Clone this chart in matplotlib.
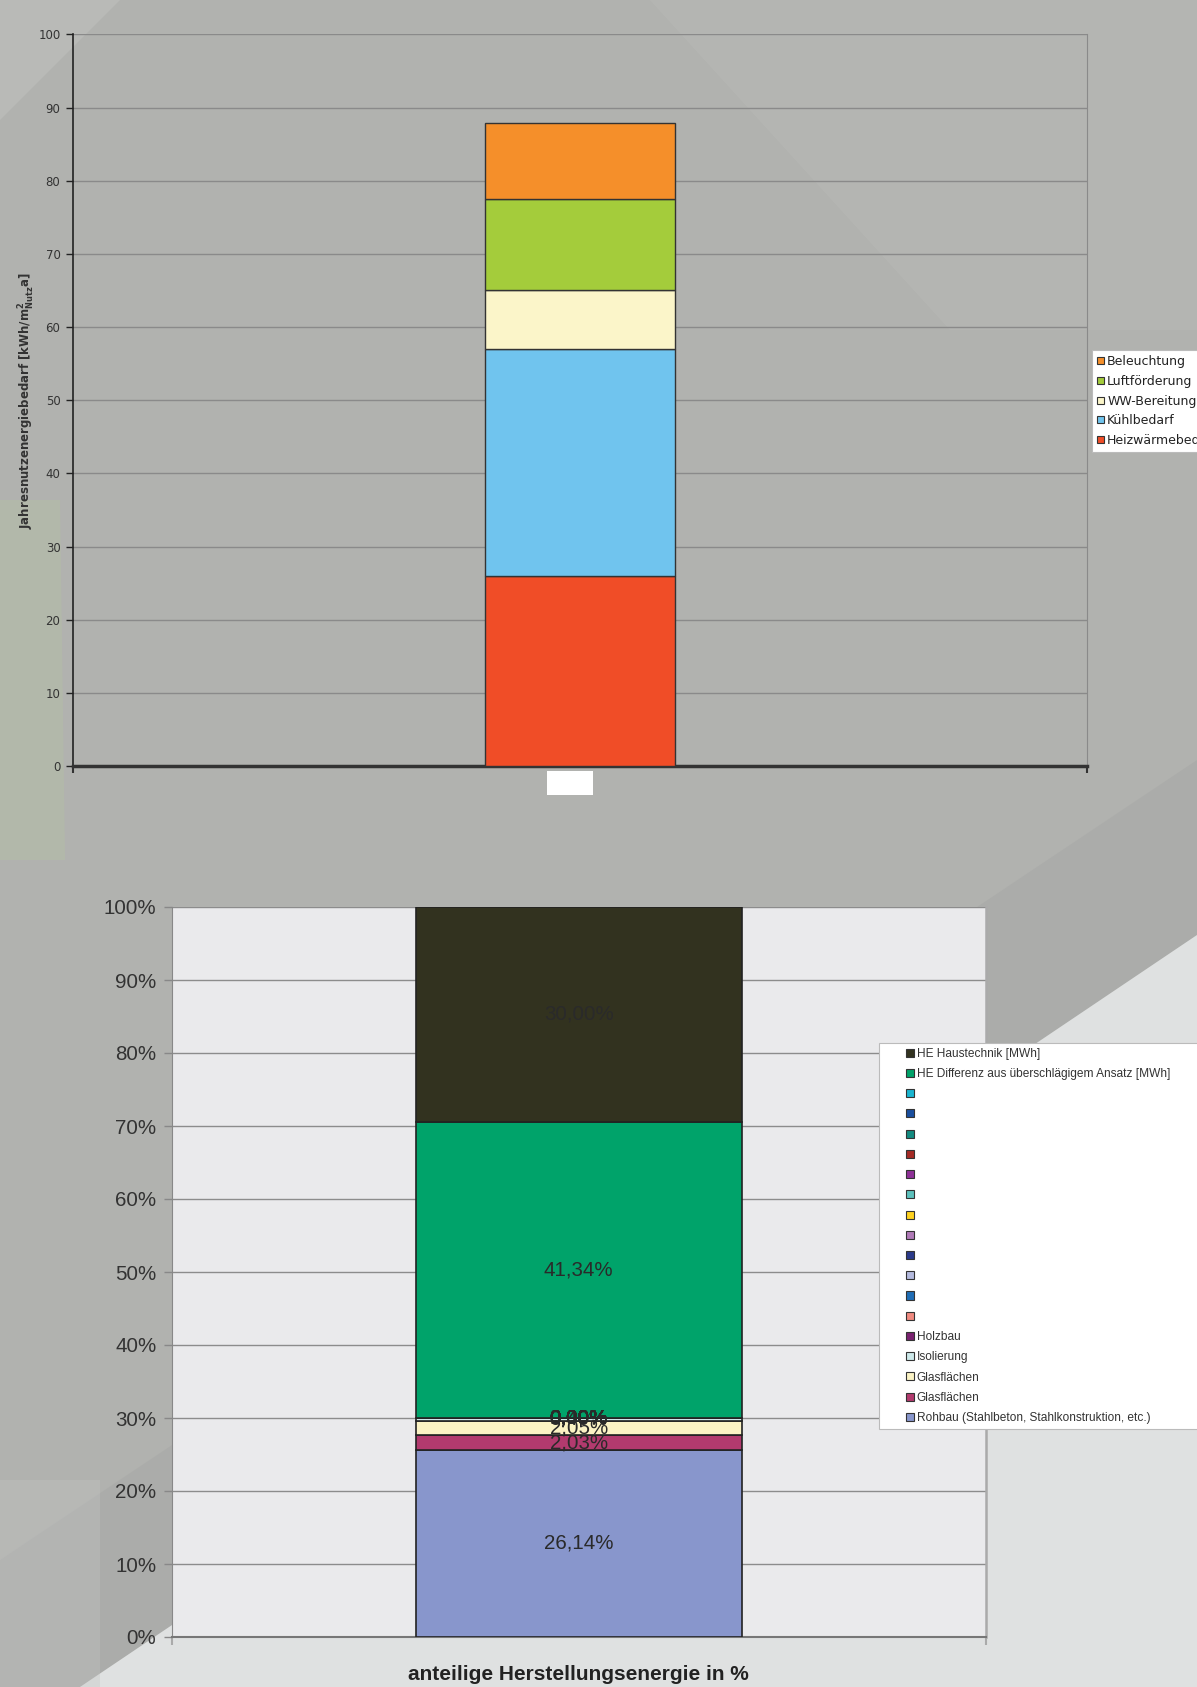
import matplotlib
matplotlib.use("Agg")
import matplotlib.pyplot as plt
from matplotlib.patches import Polygon, Rectangle, Patch
from matplotlib.legend_handler import HandlerPatch

# ---------------- data: top chart ----------------
top_categories = ["Heizwärmebedarf", "Kühlbedarf", "WW-Bereitung", "Luftförderung", "Beleuchtung"]
top_values = [26.0, 31.0, 8.0, 12.45, 10.45]
top_colors = ["#f04d27", "#70c4ee", "#fbf5c9", "#a4cc3b", "#f58f2a"]
top_yticks = [0, 10, 20, 30, 40, 50, 60, 70, 80, 90, 100]
top_ylabel = r"Jahresnutzenergiebedarf [kWh/m$^{\mathbf{2}}_{\mathbf{Nutz}}$a]"

# ---------------- data: bottom chart ----------------
bottom_series = [
    "Rohbau (Stahlbeton, Stahlkonstruktion, etc.)",
    "Glasflächen",
    "Glasflächen",
    "Isolierung",
    "Holzbau",
    "", "", "", "", "", "", "", "", "", "", "", "",
    "HE Differenz aus überschlägigem Ansatz [MWh]",
    "HE Haustechnik [MWh]",
]
bottom_values = [26.14, 2.03, 2.05, 0.40, 0.00,
                 0.00, 0.00, 0.00, 0.00, 0.00, 0.00, 0.00, 0.00, 0.00, 0.00, 0.00, 0.00,
                 41.34, 30.00]
bottom_colors = ["#8896cc", "#b23a6e", "#fbf3c4", "#cde9ea", "#7a2270",
                 "#f08a80", "#1f6db5", "#b4bade", "#2b3a8a", "#b07ab8", "#ffd21f",
                 "#5cc0bc", "#8e3097", "#a52a25", "#138a80", "#1a4f9e", "#1ab5d0",
                 "#00a36a", "#32321f"]
bottom_yticks = [0, 10, 20, 30, 40, 50, 60, 70, 80, 90, 100]
bottom_ticklabels = [f"{t}%" for t in bottom_yticks]
bottom_xlabel = "anteilige Herstellungsenergie in %"

W, H = 1197, 1687
fig = plt.figure(figsize=(W / 100, H / 100), dpi=100)
fig.patch.set_facecolor("#b1b2af")


def fx(x):
    return x / W


def fy(y):
    return 1 - y / H


def fpoly(pts, color, alpha=1.0):
    fig.patches.append(Polygon([(fx(a), fy(b)) for a, b in pts], closed=True,
                               transform=fig.transFigure, facecolor=color,
                               edgecolor="none", alpha=alpha, zorder=-10))


# background texture approximation (soft photo-like shading)
fpoly([(0, 0), (120, 0), (0, 120)], "#c2c3c0", 0.5)
fpoly([(650, 0), (1197, 0), (1197, 330), (950, 330)], "#bcbdba", 0.35)
fpoly([(0, 500), (60, 500), (65, 860), (0, 860)], "#b4bea6", 0.55)
fpoly([(1197, 760), (1197, 935), (80, 1687), (0, 1687), (0, 1560)], "#a9aaa8", 0.7)
fpoly([(1197, 935), (1197, H), (80, H)], "#dfe1e1")
fpoly([(0, 1480), (100, 1480), (100, 1687), (0, 1687)], "#c4c5c3", 0.35)


class SquareHandler(HandlerPatch):
    def __init__(self, size_pt, **kw):
        super().__init__(**kw)
        self.size_pt = size_pt

    def create_artists(self, legend, orig_handle, xdescent, ydescent, width,
                       height, fontsize, trans):
        s = self.size_pt
        p = Rectangle((-xdescent + width - s, -ydescent + (height - s) / 2), s, s)
        self.update_prop(p, orig_handle, legend)
        p.set_transform(trans)
        return [p]


# ---------------- top chart ----------------
ax1 = fig.add_axes([fx(73), fy(766), fx(1087) - fx(73), fy(34.4) - fy(766)])
ax1.set_facecolor("none")
bottom = 0.0
top_handles = []
for name, val, col in zip(top_categories, top_values, top_colors):
    ax1.bar(0, val, width=0.187, bottom=bottom, color=col, edgecolor="#333333",
            linewidth=1.0, zorder=3)
    bottom += val
    top_handles.append(Patch(facecolor=col, edgecolor="#333333", linewidth=0.8, label=name))
ax1.set_xlim(-0.5, 0.5)
ax1.set_ylim(0, 100)
ax1.set_yticks(top_yticks)
ax1.set_yticklabels([str(t) for t in top_yticks], fontsize=8.5, color="#333333",
                    family="DejaVu Sans")
ax1.yaxis.grid(True, color="#8a8a8a", linewidth=1.0, zorder=0)
ax1.set_axisbelow(True)
ax1.set_xticks([-0.5, 0.5])
ax1.set_xticklabels(["", ""])
ax1.tick_params(axis="y", direction="out", length=5, width=1, color="#222222", pad=4)
ax1.tick_params(axis="x", direction="out", length=5, width=1.5, color="#333333")
ax1.spines["top"].set_visible(False)
ax1.spines["left"].set_color("#222222")
ax1.spines["left"].set_linewidth(1.2)
ax1.spines["bottom"].set_color("#333333")
ax1.spines["bottom"].set_linewidth(2.5)
ax1.spines["right"].set_color("#8a8a8a")
ax1.spines["right"].set_linewidth(0.8)
ax1.set_ylabel(top_ylabel, fontsize=8.5, fontweight="bold", color="#333333",
               family="DejaVu Sans")
ax1.yaxis.set_label_coords((37 - 73) / 1014, 0.5)
# blank category label box under the bar
fig.patches.append(Rectangle((fx(547), fy(795)), fx(46), 24 / H, transform=fig.transFigure,
                             facecolor="white", edgecolor="none", zorder=5))

leg1 = fig.legend(handles=top_handles[::-1], labels=top_categories[::-1],
                  loc="upper left", bbox_to_anchor=(fx(1092), 0, 0.2, fy(350)),
                  mode="expand", borderaxespad=0,
                  prop={"family": "DejaVu Sans", "size": 9},
                  handlelength=0.56, handletextpad=0.25, labelspacing=0.54,
                  borderpad=0.4, frameon=True, fancybox=False, framealpha=1,
                  handler_map={Patch: SquareHandler(5.2)})
leg1.get_frame().set_facecolor("white")
leg1.get_frame().set_edgecolor("#bbbbbb")
leg1.get_frame().set_linewidth(0.8)
for t in leg1.get_texts():
    t.set_color("#222222")

# ---------------- bottom chart ----------------
ax2 = fig.add_axes([fx(171.7), fy(1637), fx(985.7) - fx(171.7), fy(907) - fy(1637)])
ax2.set_facecolor("#eaeaec")
total = sum(bottom_values)
cum = 0.0
bot_handles = []
for name, val, col in zip(bottom_series, bottom_values, bottom_colors):
    h = val / total * 100
    ax2.bar(0, h, width=0.40, bottom=cum, color=col, edgecolor="#222222",
            linewidth=1.2, zorder=3)
    lbl = f"{val:.2f}".replace(".", ",") + "%"
    ax2.text(0, cum + h / 2, lbl, ha="center", va="center", fontsize=14.8,
             color="#2a2a2a", family="Liberation Sans", zorder=6)
    cum += h
    bot_handles.append(Patch(facecolor=col, edgecolor="#333333", linewidth=0.8))
ax2.set_xlim(-0.5, 0.5)
ax2.set_ylim(0, 100)
ax2.set_yticks(bottom_yticks)
ax2.set_yticklabels(bottom_ticklabels, fontsize=14.8, color="#333333",
                    family="Liberation Sans")
ax2.yaxis.grid(True, color="#8c8c8c", linewidth=1.0, zorder=0)
ax2.set_axisbelow(True)
ax2.set_xticks([-0.5, 0.5])
ax2.set_xticklabels(["", ""])
ax2.tick_params(axis="y", direction="out", length=6, width=1, color="#888888", pad=5)
ax2.tick_params(axis="x", direction="out", length=6, width=1.5, color="#aaaaaa")
ax2.spines["top"].set_visible(False)
ax2.spines["left"].set_color("#888888")
ax2.spines["bottom"].set_color("#777777")
ax2.spines["bottom"].set_linewidth(1.5)
ax2.spines["right"].set_color("#aaaaaa")
ax2.spines["right"].set_linewidth(1.8)
ax2.set_xlabel(bottom_xlabel, fontsize=15, fontweight="bold", color="#222222",
               family="Liberation Sans", labelpad=11)

leg2 = fig.legend(handles=bot_handles[::-1], labels=bottom_series[::-1],
                  loc="upper left", bbox_to_anchor=(fx(879), 0, 0.3, fy(1043)),
                  mode="expand", borderaxespad=0,
                  prop={"family": "Liberation Sans", "size": 8.6},
                  handlelength=2.5, handletextpad=0.25, labelspacing=0.69,
                  borderpad=0.4, frameon=True, fancybox=False, framealpha=1,
                  handler_map={Patch: SquareHandler(5.8)})
leg2.get_frame().set_facecolor("white")
leg2.get_frame().set_edgecolor("#bbbbbb")
leg2.get_frame().set_linewidth(0.8)
for t in leg2.get_texts():
    t.set_color("#333333")

fig.savefig("out.png", dpi=100, facecolor=fig.get_facecolor())
